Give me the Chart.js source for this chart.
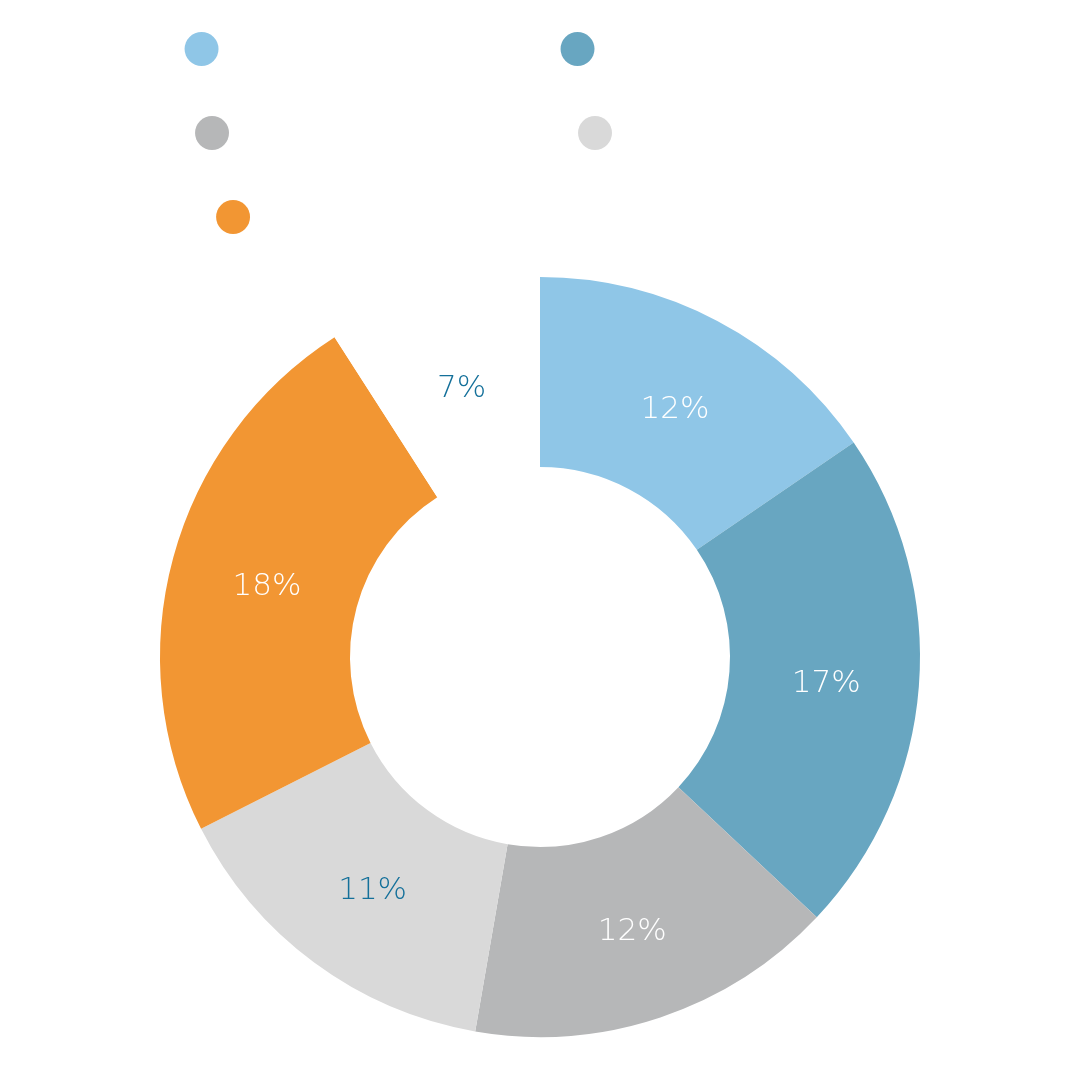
<!DOCTYPE html>
<html>
<head>
<meta charset="utf-8">
<script src="https://cdn.jsdelivr.net/npm/chart.js@4.4.1/dist/chart.umd.min.js"></script>
<style>
  html, body { margin: 0; padding: 0; background: #ffffff; }
  .chart-box { width: 1080px; height: 1080px; }
</style>
</head>
<body>
<div class="chart-box"><canvas id="share-chart"></canvas></div>
<script>
const canvasElement = document.getElementById("share-chart");

// slice values, clockwise from 12 o'clock (labels are shown rounded)
const shares = [11.9, 16.6, 12.1, 11.4, 18.0, 7.0];

const sliceColors = ["#8fc6e7", "#68a6c1", "#b6b7b8", "#d9d9d9", "#f29633", "#ffffff"];
const labelColors = ["#ffffff", "#ffffff", "#ffffff", "#14709a", "#ffffff", "#14709a"];

// the legend in the picture shows no names, only dots; blank names of
// these widths (px at 70px) put the dots where they are
const legendNameWidths = [285, 269, 295, 235, 300, 188];

const blankName = (px) => {
  const hairs = Math.round(px / 7); // hair space = 0.1em
  return "\u2003".repeat(Math.floor(hairs / 10)) +
    "\u2009".repeat(Math.floor((hairs % 10) / 2)) +
    (hairs % 2 ? "\u200a" : "");
};

const categories = legendNameWidths.map(blankName);

const sliceLabels = {
  id: "sliceLabels",
  afterDatasetsDraw(chart) {
    const { ctx } = chart;
    const meta = chart.getDatasetMeta(0);
    ctx.save();
    ctx.font = '300 31px "DejaVu Sans"';
    ctx.textAlign = "center";
    ctx.textBaseline = "middle";
    meta.data.forEach((arc, i) => {
      const pos = arc.tooltipPosition();
      ctx.fillStyle = labelColors[i];
      ctx.fillText(`${Math.round(shares[i])}%`, pos.x + 2, pos.y + 5);
    });
    ctx.restore();
  },
};

const config = {
  type: "doughnut",
  data: {
    labels: categories,
    datasets: [
      {
        data: shares,
        backgroundColor: sliceColors,
        hoverBackgroundColor: sliceColors,
        borderWidth: 0,
        hoverOffset: 0,
      },
    ],
  },
  options: {
    responsive: true,
    maintainAspectRatio: false,
    animation: false,
    cutout: "50%",
    radius: 380,
    layout: {
      padding: { bottom: 28 },
    },
    plugins: {
      legend: {
        position: "top",
        labels: {
          usePointStyle: true,
          pointStyle: "circle",
          boxHeight: 24,
          padding: 14,
          color: "#ffffff",
          font: { family: "DejaVu Sans", size: 70 },
        },
      },
      tooltip: { enabled: false },
    },
  },
  plugins: [sliceLabels],
};

const shareChart = new Chart(canvasElement, config);
</script>
</body>
</html>
